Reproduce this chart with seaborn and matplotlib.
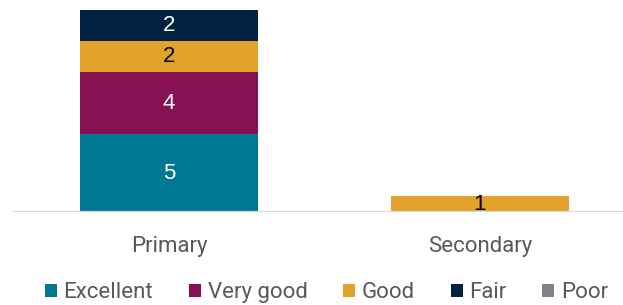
#!/usr/bin/env python3
import numpy as np
import pandas as pd

import matplotlib.pyplot as plt
from matplotlib.patches import Patch
import seaborn as sns

# data
categories = ["Primary", "Secondary"]
ratings = ["Excellent", "Very good", "Good", "Fair", "Poor"]
excellent = [5, 0]
very_good = [4, 0]
good = [2, 1]
fair = [2, 0]
poor = [0, 0]

colors = {
    "Excellent": "#007894",
    "Very good": "#861253",
    "Good": "#E1A32A",
    "Fair": "#002140",
    "Poor": "#7F8389",
}
label_colors = {
    "Excellent": "white",
    "Very good": "white",
    "Good": "black",
    "Fair": "white",
    "Poor": "white",
}

values = {"Excellent": excellent, "Very good": very_good, "Good": good,
          "Fair": fair, "Poor": poor}

df = pd.DataFrame(values, index=categories)
cum = df.cumsum(axis=1)

sns.set_style("white")
plt.rcParams["font.family"] = ["Roboto", "DejaVu Sans"]

fig = plt.figure(figsize=(6.23, 3.05), dpi=100)
ax = fig.add_axes([12 / 623, 1 - 212 / 305, 611 / 623, 202 / 305])

# draw cumulative totals, tallest first, so each layer covers the one beneath
for r in reversed(ratings):
    d = pd.DataFrame({"cat": categories, "val": cum[r].values})
    sns.barplot(data=d, x="cat", y="val", color=colors[r], width=0.573,
                saturation=1, ax=ax, linewidth=0)

# segment labels
for i, c in enumerate(categories):
    for r in ratings:
        v = df.loc[c, r]
        if v > 0:
            mid = cum.loc[c, r] - v / 2
            ax.text(i, mid, str(v), ha="center", va="center", fontsize=16,
                    color=label_colors[r], family=["Liberation Sans", "DejaVu Sans"])

ax.set_xlim(-0.505, 1.46)
ax.set_ylim(0, 13)
ax.axhline(0, color="#D9D9D9", linewidth=1.6, zorder=5)
sns.despine(ax=ax, left=True, bottom=True)
ax.set_yticks([])
ax.set_xlabel("")
ax.set_ylabel("")
ax.tick_params(axis="x", length=0, pad=17, labelsize=16, labelcolor="#595959")

handles = [Patch(facecolor=colors[r], edgecolor="none", label=r) for r in ratings]
leg = fig.legend(handles=handles, loc="lower center", bbox_to_anchor=(0.524, -0.06),
                 ncol=5, frameon=False, fontsize=16, handlelength=0.55,
                 handleheight=0.55, handletextpad=0.3, columnspacing=1.6)
for t in leg.get_texts():
    t.set_color("#595959")

fig.savefig("out.png", dpi=100)
plt.close()
